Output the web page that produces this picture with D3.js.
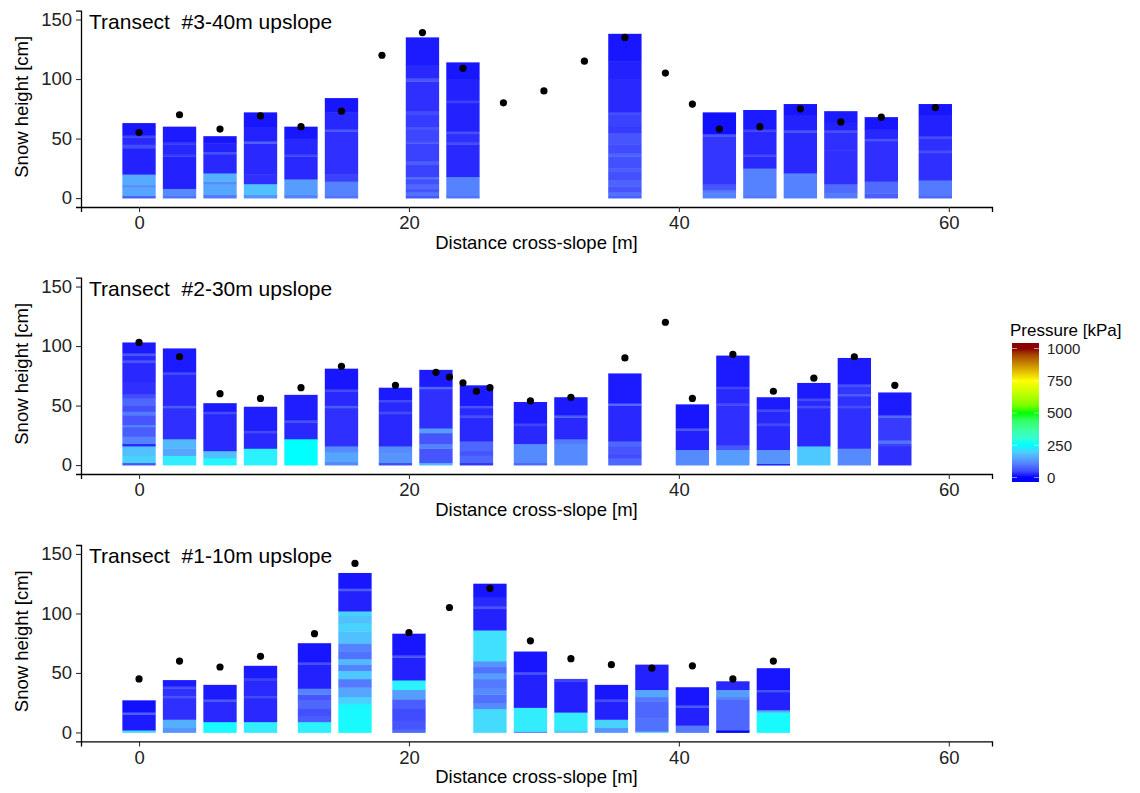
<!DOCTYPE html>
<html>
<head>
<meta charset="utf-8">
<script src="https://cdn.jsdelivr.net/npm/d3@7"></script>
<style>
  html, body { margin: 0; padding: 0; background: #fff; }
  svg text { font-family: "Liberation Sans", Arial, sans-serif; white-space: pre; }
</style>
</head>
<body>
<svg id="chart" width="1140" height="793"></svg>
<script>
// ---------------- data ----------------
const xTicks = [0, 20, 40, 60];
const yTicks = [0, 50, 100, 150];
const legendTicks = [0, 250, 500, 750, 1000];
const legendTitle = "Pressure [kPa]";
const xTitle = "Distance cross-slope [m]";
const yTitle = "Snow height [cm]";
const panelTitles = ["Transect  #3-40m upslope", "Transect  #2-30m upslope", "Transect  #1-10m upslope"];
const barWidth = 2.47;

// Transect #3 (40 m upslope): bar positions, layers [top cm, pressure kPa], probe points
const t3BarX = [0, 3, 6, 9, 12, 15, 21, 24, 36, 43, 46, 49, 52, 55, 59];
const t3Layers = [
  [[2,70],[9,150],[11,120],[20,155],[42,15],[45,50],[51,20],[53,40],[63,8]],
  [[2,90],[8,120],[35,15],[37,35],[45,18],[47,35],[60,10]],
  [[3,100],[12,150],[14,120],[21,160],[37,20],[39,60],[46,15],[52,8]],
  [[3,130],[12,180],[20,25],[46,20],[48,70],[60,15],[72,8]],
  [[3,110],[16,140],[35,20],[37,45],[50,18],[60,8]],
  [[2,90],[14,110],[20,40],[56,25],[58,60],[72,18],[84,8]],
  [[2,60],[5,90],[8,60],[12,80],[16,55],[18,90],[28,40],[31,70],[46,40],[48,60],[58,45],[60,60],[70,35],[73,50],[98,25],[101,60],[112,20],[135,10]],
  [[2,90],[18,110],[45,20],[47,50],[54,25],[56,55],[80,15],[82,40],[100,15],[114,8]],
  [[2,70],[5,90],[10,60],[15,75],[22,55],[25,70],[35,55],[38,75],[45,50],[55,60],[60,35],[70,40],[72,55],[100,20],[115,15],[138,8]],
  [[4,110],[7,100],[12,60],[52,30],[54,60],[72,5]],
  [[3,100],[25,110],[35,20],[37,45],[56,20],[58,40],[74,10]],
  [[21,110],[55,20],[57,60],[70,15],[79,8]],
  [[4,100],[12,85],[40,25],[55,25],[57,55],[64,15],[73,10]],
  [[4,70],[14,85],[48,25],[50,60],[58,18],[68,8]],
  [[2,80],[15,100],[38,25],[40,55],[50,25],[52,50],[70,15],[79,8]]
];
const t3DotX = [0, 3, 6, 9, 12, 15, 18, 21, 24, 27, 30, 33, 36, 39, 41, 43, 46, 49, 52, 55, 59];
const t3DotY = [55, 70, 58, 69, 60, 73, 120, 139, 109, 80, 90, 115, 135, 105, 79, 58, 60, 75, 64, 68, 76];

// Transect #2 (30 m upslope)
const t2BarX = [0, 3, 6, 9, 12, 15, 19, 22, 25, 29, 32, 36, 41, 44, 47, 50, 53, 56];
const t2Layers = [
  [[2,60],[8,200],[16,180],[18,20],[24,110],[32,70],[34,110],[42,60],[45,100],[50,55],[56,80],[60,50],[70,25],[86,20],[88,60],[92,20],[94,60],[103,10]],
  [[8,230],[14,150],[22,170],[48,25],[50,70],[76,20],[78,50],[98,10]],
  [[6,240],[12,180],[43,20],[45,50],[52,10]],
  [[14,235],[27,20],[29,50],[49,12]],
  [[22,250],[36,20],[38,55],[59,12]],
  [[3,120],[11,150],[16,120],[48,25],[50,70],[62,20],[64,45],[81,8]],
  [[2,50],[10,130],[16,120],[43,20],[45,50],[53,20],[55,50],[65,10]],
  [[2,170],[14,60],[18,110],[27,60],[31,140],[64,25],[66,80],[80,10]],
  [[2,30],[8,80],[12,60],[20,80],[40,20],[42,50],[48,20],[50,60],[67,10]],
  [[2,80],[18,120],[33,20],[35,45],[53,10]],
  [[18,120],[22,100],[40,20],[42,70],[57,10]],
  [[6,80],[10,50],[16,60],[20,80],[50,20],[52,80],[77,10]],
  [[13,120],[29,15],[31,60],[51,8]],
  [[13,140],[17,60],[50,25],[52,50],[64,20],[66,45],[92,10]],
  [[1,0],[13,130],[33,20],[35,50],[45,20],[47,45],[57,10]],
  [[16,190],[48,20],[50,55],[54,20],[56,50],[69,10]],
  [[14,120],[48,25],[50,55],[58,25],[60,70],[66,30],[68,55],[90,10]],
  [[16,25],[18,40],[21,90],[40,35],[42,80],[61,10]]
];
const t2DotX = [0, 3, 6, 9, 12, 15, 19, 22, 23, 24, 25, 26, 29, 32, 36, 39, 41, 44, 47, 50, 53, 56];
const t2DotY = [103, 91, 60, 56, 65, 83, 67, 78, 74, 69, 62, 65, 54, 57, 90, 120, 56, 93, 62, 73, 91, 67];

// Transect #1 (10 m upslope)
const t1BarX = [0, 3, 6, 9, 13, 16, 20, 26, 29, 32, 35, 38, 41, 44, 47];
const t1Layers = [
  [[2,210],[15,10],[17,70],[27,5]],
  [[4,130],[11,160],[29,25],[31,60],[37,25],[39,50],[44,10]],
  [[9,245],[26,20],[28,60],[40,10]],
  [[9,230],[29,20],[31,50],[44,20],[46,40],[56,10]],
  [[9,235],[14,70],[20,55],[27,80],[32,60],[37,110],[57,15],[59,55],[75,8]],
  [[24,245],[30,200],[38,150],[45,100],[52,190],[57,110],[62,170],[68,90],[75,110],[85,180],[92,200],[98,180],[102,200],[119,15],[121,70],[134,8]],
  [[3,80],[10,60],[20,50],[28,70],[36,140],[44,235],[63,15],[65,60],[83,8]],
  [[20,210],[25,120],[32,90],[37,120],[45,100],[50,140],[55,90],[60,130],[86,215],[104,15],[106,60],[114,20],[125,8]],
  [[1,100],[21,230],[49,15],[51,60],[68,8]],
  [[2,190],[17,230],[43,15],[45,40]],
  [[4,130],[11,200],[26,15],[28,50],[40,8]],
  [[1,200],[12,90],[26,80],[30,100],[36,150],[57,15]],
  [[6,100],[21,15],[23,60],[38,8]],
  [[2,0],[28,80],[30,110],[36,140],[43,20]],
  [[17,245],[19,150],[34,15],[36,60],[54,8]]
];
const t1DotX = [0, 3, 6, 9, 13, 16, 20, 23, 26, 29, 32, 35, 38, 41, 44, 47];
const t1DotY = [45, 60, 55, 64, 83, 142, 84, 105, 121, 77, 62, 57, 54, 56, 45, 60];

const panels = [
  { title: panelTitles[0], barX: t3BarX, layers: t3Layers, dotX: t3DotX, dotY: t3DotY },
  { title: panelTitles[1], barX: t2BarX, layers: t2Layers, dotX: t2DotX, dotY: t2DotY },
  { title: panelTitles[2], barX: t1BarX, layers: t1Layers, dotX: t1DotX, dotY: t1DotY }
];

// ---------------- layout ----------------
const svg = d3.select("#chart");
const left = 81, right = 992;
const panelTops = [10.6, 277.6, 545];
const panelH = 196.4;

const color = d3.scaleLinear()
  .domain([0, 250, 500, 750, 1000])
  .range(["#0000FF", "#00FFFF", "#00FF00", "#FFFF00", "#8B0000"])
  .interpolate(d3.interpolateLab)
  .clamp(true);

const x = d3.scaleLinear().domain([-4.3, 63.2]).range([left, right]);

panels.forEach((p, i) => {
  const top = panelTops[i];
  const bottom = top + panelH;
  const y = d3.scaleLinear().domain([-7.5, 157.5]).range([bottom, top]);
  const g = svg.append("g");

  // bars made of pressure layers
  const rects = [];
  p.barX.forEach((bx, j) => {
    let prev = 0;
    p.layers[j].forEach(([t, pr]) => {
      rects.push({ bx, b: prev, t, pr });
      prev = t;
    });
  });
  g.append("g").selectAll("rect").data(rects).join("rect")
    .attr("x", d => x(d.bx - barWidth / 2))
    .attr("width", d => x(d.bx + barWidth / 2) - x(d.bx - barWidth / 2))
    .attr("y", d => y(d.t))
    .attr("height", d => y(d.b) - y(d.t) + 0.4)
    .attr("fill", d => color(d.pr));

  // probe points
  g.append("g").selectAll("circle").data(p.dotX.map((dx, k) => [dx, p.dotY[k]])).join("circle")
    .attr("cx", d => x(d[0]))
    .attr("cy", d => y(d[1]))
    .attr("r", 3.6)
    .attr("fill", "#000");

  // axes
  const ax = g.append("g").attr("transform", `translate(0,${bottom})`)
    .call(d3.axisBottom(x).tickValues(xTicks).tickSizeOuter(0).tickSize(5).tickPadding(4));
  const ay = g.append("g").attr("transform", `translate(${left},0)`)
    .call(d3.axisLeft(y).tickValues(yTicks).tickSizeOuter(0).tickSize(5).tickPadding(4));
  [ax, ay].forEach(a => {
    a.select(".domain").attr("stroke", "#000").attr("stroke-width", 1.3);
    a.selectAll(".tick line").attr("stroke", "#333").attr("stroke-width", 1.1);
    a.selectAll(".tick text").attr("fill", "#222").style("font-size", "18.5px")
      .style("font-family", "'Liberation Sans', Arial, sans-serif");
  });

  // titles
  g.append("text").attr("x", 89).attr("y", top + 18)
    .attr("fill", "#000").style("font-size", "21px").text(p.title);
  g.append("text").attr("x", (left + right) / 2).attr("y", bottom + 42)
    .attr("text-anchor", "middle").attr("fill", "#000").style("font-size", "18.5px").text(xTitle);
  g.append("text")
    .attr("transform", `translate(27.5,${(top + bottom) / 2 - 2}) rotate(-90)`)
    .attr("text-anchor", "middle").attr("fill", "#000").style("font-size", "18.5px").text(yTitle);
});

// ---------------- legend ----------------
const lg = svg.append("g");
const barX0 = 1012, barW = 27, barTop = 343, barBot = 482;
const ly = d3.scaleLinear().domain([0, 1000]).range([477.5, 348.5]);
const grad = svg.append("defs").append("linearGradient").attr("id", "pgrad")
  .attr("x1", 0).attr("y1", 1).attr("x2", 0).attr("y2", 0);
d3.range(0, 1001, 50).forEach(v => {
  grad.append("stop").attr("offset", (ly(v) - barBot) / (barTop - barBot)).attr("stop-color", color(v));
});
lg.append("rect").attr("x", barX0).attr("y", barTop).attr("width", barW).attr("height", barBot - barTop)
  .attr("fill", "url(#pgrad)");
legendTicks.forEach(v => {
  lg.append("line").attr("x1", barX0).attr("x2", barX0 + 5).attr("y1", ly(v)).attr("y2", ly(v))
    .attr("stroke", "#fff").attr("stroke-width", 0.8).attr("opacity", 0.7);
  lg.append("line").attr("x1", barX0 + barW - 5).attr("x2", barX0 + barW).attr("y1", ly(v)).attr("y2", ly(v))
    .attr("stroke", "#fff").attr("stroke-width", 0.8).attr("opacity", 0.7);
});
lg.selectAll("text.lab").data(legendTicks).join("text").attr("class", "lab")
  .attr("x", 1047).attr("y", d => ly(d)).attr("dy", "0.36em")
  .attr("fill", "#222").style("font-size", "15px").text(d => d);
lg.append("text").attr("x", 1010).attr("y", 336).attr("fill", "#000").style("font-size", "17px").text(legendTitle);
</script>
</body>
</html>
